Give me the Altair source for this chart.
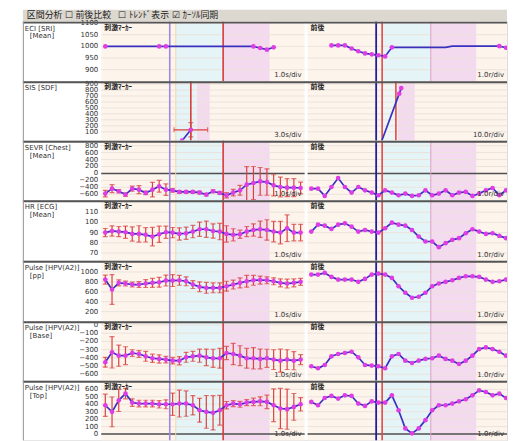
import altair as alt
import pandas as pd

# ---------------- data ----------------
row_names = [["ECI [SRI]", "[Mean]"], ["SIS [SDF]"], ["SEVR [Chest]", "[Mean]"],
             ["HR [ECG]", "[Mean]"], ["Pulse [HPV(A2)]", "[pp]"],
             ["Pulse [HPV(A2)]", "[Base]"], ["Pulse [HPV(A2)]", "[Top]"]]
y_domains = [[851, 1106], [-50, 950], [-771, 943], [62.5, 121.7], [6, 1226], [-678, 45], [-84, 716]]
y_ticks = [[1100, 1050, 1000, 950, 900],
           [900, 800, 700, 600, 500, 400, 300, 200, 100],
           [800, 600, 400, 200, 0, -200, -400, -600],
           [110, 100, 90, 80, 70],
           [1000, 800, 600, 400, 200],
           [0, -100, -200, -300, -400, -500, -600],
           [600, 500, 400, 300, 200, 100, 0]]
zero_line = [False, False, True, False, False, False, True]
left_title = "刺激ﾏｰｶｰ"
right_title = "前後"
left_div = ["1.0s/div", "3.0s/div", "1.0s/div", "1.0s/div", "1.0s/div", "1.0s/div", "1.0s/div"]
right_div = ["1.0r/div", "10.0r/div", "1.0r/div", "1.0r/div", "1.0r/div", "1.0r/div", "1.0r/div"]

IDX = list(range(30))

# left panels (stimulus-marker average, with error bars)
left_x = [
    [0, 8, 9, 22, 23, 24, 25],
    [11.4, 12.7],
    IDX, IDX, IDX, IDX, IDX,
]
left_v = [
    [1000, 1000, 1000, 1000, 993, 986, 996],
    [-50, 133],
    [-581, -438, -514, -610, -438, -467, -562, -467, -371, -467, -486, -533, -533, -533, -552,
     -610, -514, -562, -629, -552, -486, -324, -276, -229, -248, -343, -390, -410, -410, -419],
    [90.0, 91.6, 91.0, 90.4, 88.7, 88.7, 87.8, 86.1, 88.4, 90.4, 90.0, 88.7, 89.4, 91.0, 93.3,
     93.3, 91.6, 91.0, 88.7, 87.8, 88.4, 91.0, 92.6, 93.3, 92.6, 91.0, 90.0, 94.3, 90.0, 90.0],
    [846, 646, 780, 766, 746, 746, 766, 780, 792, 826, 826, 832, 812, 746, 700,
     680, 680, 680, 712, 746, 780, 812, 832, 836, 832, 812, 780, 766, 780, 800],
    [-453, -333, -373, -373, -341, -353, -381, -405, -413, -421, -434, -434, -393, -381, -373,
     -393, -405, -405, -341, -353, -373, -405, -405, -413, -405, -421, -434, -421, -434, -421],
    [387, 298, 453, 543, 423, 409, 409, 409, 400, 400, 400, 409, 409, 387, 320,
     298, 285, 320, 387, 409, 400, 423, 432, 440, 432, 387, 343, 334, 365, 400],
]
left_err = [
    [0, 0, 0, 0, 0, 0, 0],
    [0, 120],
    [95, 115, 50, 50, 75, 115, 50, 210, 170, 165, 50, 40, 40, 40, 40,
     40, 40, 40, 75, 95, 140, 520, 475, 400, 380, 305, 285, 260, 260, 170],
    [4, 5, 5, 6, 7, 8, 7, 9, 8, 6, 5, 6, 6, 6, 7,
     8, 7, 8, 8, 6, 4, 5, 6, 8, 10, 10, 11, 13, 8, 8],
    [90, 300, 60, 50, 50, 60, 80, 90, 100, 110, 120, 100, 90, 80, 100,
     110, 100, 100, 100, 90, 100, 120, 100, 80, 70, 70, 80, 90, 80, 70],
    [60, 190, 129, 108, 40, 40, 60, 50, 50, 40, 40, 50, 60, 60, 80,
     100, 110, 120, 80, 130, 120, 120, 130, 120, 110, 120, 140, 120, 110, 60],
    [150, 200, 150, 70, 50, 45, 45, 45, 50, 60, 150, 180, 170, 130, 160,
     220, 230, 200, 50, 40, 40, 40, 50, 60, 90, 220, 270, 270, 180, 90],
]
left_xerr = [None, [0, 2.5], None, None, None, None, None]

# right panels (before / after)
right_x = [
    [3, 4, 5, 6, 7, 8, 9, 10, 11, 12, 20, 21, 28, 29],
    [10.5, 13.1, 13.4],
    IDX, IDX, IDX, IDX, IDX,
]
right_v = [
    [1004, 1004, 1004, 991, 979, 970, 966, 962, 957, 996, 996, 1001, 1001, 994],
    [-50, 740, 833],
    [-438, -438, -648, -390, -133, -390, -552, -390, -486, -552, -629, -486, -552, -629, -581,
     -648, -629, -486, -629, -581, -486, -629, -552, -533, -648, -581, -486, -419, -629, -486],
    [91.0, 97.8, 96.8, 93.6, 97.8, 99.1, 95.8, 91.0, 92.6, 91.0, 90.0, 94.3, 99.7, 97.8, 96.8,
     92.6, 86.1, 81.3, 81.3, 75.8, 79.7, 82.9, 84.6, 89.4, 93.3, 91.0, 88.7, 89.4, 86.8, 84.6],
    [946, 946, 980, 900, 846, 846, 846, 800, 860, 946, 966, 946, 880, 712, 580,
     480, 500, 580, 712, 766, 800, 832, 880, 912, 912, 900, 846, 800, 812, 846],
    [-502, -526, -486, -381, -353, -341, -325, -393, -486, -494, -502, -526, -381, -353, -434,
     -462, -434, -413, -405, -373, -413, -434, -474, -434, -373, -293, -273, -293, -325, -373],
    [432, 387, 485, 512, 476, 520, 512, 409, 378, 440, 423, 423, 520, 320, 76,
     9, 76, 187, 320, 387, 387, 409, 440, 467, 520, 587, 565, 520, 543, 485],
]
right_marker = [
    [1, 1, 1, 1, 1, 1, 1, 1, 1, 1, 0, 0, 1, 1],
    [0, 1, 1],
    None, None, None, None, None,
]

# analysis intervals (x in sample units) and cursor lines
left_bands = [[10.46, 17.5, "#e4f4f7"], [17.5, 24.4, "#f4daee"]]
left_bands_r2 = [[10.46, 13.5, "#e4f4f7"], [13.6, 15.5, "#f4daee"]]
right_bands = [[10.55, 17.8, "#e4f4f7"], [17.8, 24.56, "#f4daee"]]
right_bands_r2 = [[10.55, 12.6, "#eef7f6"], [12.9, 15.4, "#f4daee"]]
left_lines = [[9.57, "#9d86e0", 1.6], [10.46, "#f1d9b4", 1.0], [17.5, "#d93a3a", 1.6]]
left_lines_r2 = [[9.57, "#9d86e0", 1.6], [10.46, "#f1d9b4", 1.0], [12.7, "#d93a3a", 1.6]]
right_lines = [[9.66, "#1f1f9e", 1.8], [10.55, "#e04848", 1.6], [17.8, "#dca0c4", 1.0]]
right_lines_r2 = [[9.66, "#1f1f9e", 1.8], [10.55, "#e04848", 1.6], [12.6, "#e04848", 1.6]]

toolbar_text = ["区間分析", "☐", "前後比較", "☐", "ﾄﾚﾝﾄﾞ表示", "☑", "ｶｰｿﾙ同期"]
toolbar_pos = [4, 42, 53, 96, 107, 150, 161]

# ---------------- layout / style ----------------
LABEL_W = 79
LW, RW, GAP = 205, 201, 3
TOTAL_W = LABEL_W + LW + GAP + RW
L0, L1 = LABEL_W, LABEL_W + LW
R0, R1 = LABEL_W + LW + GAP, TOTAL_W
HEIGHTS = [60, 60, 60, 61, 61, 60, 60]
LX_DOMAIN = [-0.6, 29.6]
RX_DOMAIN = [-0.55, 29.15]
PEACH = "#fdf4ec"
GRID = "#ebe3dc"
SEP = "#555555"
LINE = "#3a30c0"
MAG = "#e03ce6"
ERR = "#d94040"
TXT = "#333333"
FONT = "DejaVu Sans"
JFONT = "Noto Sans CJK JP"


def one():
    return alt.Chart(pd.DataFrame({"a": [0]}))


def make_row(r):
    h = HEIGHTS[r]
    xl = alt.Scale(domain=LX_DOMAIN, range=[L0, L1], nice=False, zero=False)
    xr = alt.Scale(domain=RX_DOMAIN, range=[R0, R1], nice=False, zero=False)
    ys = alt.Scale(domain=y_domains[r], nice=False, zero=False)

    def XL(f):
        return alt.X(f, type="quantitative", scale=xl, axis=None)

    def XR(f):
        return alt.X(f, type="quantitative", scale=xr, axis=None)

    def Y(f):
        return alt.Y(f, type="quantitative", scale=ys, axis=None)

    layers = []
    # panel backgrounds
    for a, b in [(L0, L1), (R0, R1)]:
        layers.append(one().mark_rect(color=PEACH).encode(
            x=alt.value(a), x2=alt.value(b), y=alt.value(0), y2=alt.value(h)))

    gdf = pd.DataFrame({"t": y_ticks[r]})
    for side in ["L", "R"]:
        left = side == "L"
        X = XL if left else XR
        a, b = (L0, L1) if left else (R0, R1)
        if left:
            bands = left_bands_r2 if r == 1 else left_bands
            vlines = left_lines_r2 if r == 1 else left_lines
        else:
            bands = right_bands_r2 if r == 1 else right_bands
            vlines = right_lines_r2 if r == 1 else right_lines
        bdf = pd.DataFrame(bands, columns=["a", "b", "c"])
        layers.append(alt.Chart(bdf).mark_rect().encode(
            x=X("a"), x2="b", y=alt.value(0), y2=alt.value(h),
            fill=alt.Fill("c:N", scale=None)))
        layers.append(alt.Chart(gdf).mark_rule(color=GRID, strokeWidth=1).encode(
            x=alt.value(a), x2=alt.value(b), y=Y("t")))
        if zero_line[r]:
            layers.append(alt.Chart(pd.DataFrame({"z": [0]})).mark_rule(
                color="#505050", strokeWidth=1.5).encode(
                x=alt.value(a), x2=alt.value(b), y=Y("z")))
        vdf = pd.DataFrame(vlines, columns=["x", "c", "w"])
        layers.append(alt.Chart(vdf).mark_rule().encode(
            x=X("x"), y=alt.value(0), y2=alt.value(h),
            stroke=alt.Stroke("c:N", scale=None),
            strokeWidth=alt.StrokeWidth("w:Q", scale=None)))

        if left:
            df = pd.DataFrame({"x": left_x[r], "v": left_v[r], "e": left_err[r]})
            df["lo"] = df["v"] - df["e"]
            df["hi"] = df["v"] + df["e"]
            edf = df[df["e"] > 0]
            if len(edf):
                layers.append(alt.Chart(edf).mark_rule(color=ERR, strokeWidth=1.2, clip=True).encode(
                    x=X("x"), y=Y("lo"), y2="hi"))
                for f in ["lo", "hi"]:
                    layers.append(alt.Chart(edf).mark_tick(color=ERR, size=5, thickness=1.2,
                                                           orient="horizontal", clip=True).encode(
                        x=X("x"), y=Y(f)))
            if left_xerr[r] is not None:
                df["xe"] = left_xerr[r]
                df["xlo"] = df["x"] - df["xe"]
                df["xhi"] = df["x"] + df["xe"]
                xdf = df[df["xe"] > 0]
                layers.append(alt.Chart(xdf).mark_rule(color=ERR, strokeWidth=1.2, clip=True).encode(
                    x=X("xlo"), x2="xhi", y=Y("v")))
                for f in ["xlo", "xhi"]:
                    layers.append(alt.Chart(xdf).mark_tick(color=ERR, size=5, thickness=1.2,
                                                           orient="vertical", clip=True).encode(
                        x=X(f), y=Y("v")))
            pdf = df
        else:
            df = pd.DataFrame({"x": right_x[r], "v": right_v[r]})
            mk = right_marker[r]
            pdf = df if mk is None else df[pd.Series(mk) > 0]

        layers.append(alt.Chart(df).mark_line(color=LINE, strokeWidth=1.7, clip=True).encode(
            x=X("x"), y=Y("v")))
        layers.append(alt.Chart(pdf).mark_point(filled=True, size=22, color=MAG, opacity=1,
                                                clip=True).encode(x=X("x"), y=Y("v")))

        layers.append(one().mark_text(align="left", baseline="top", fontSize=7, font=JFONT,
                                      fontWeight="bold", color="#222222").encode(
            x=alt.value(a + 3), y=alt.value(2),
            text=alt.value(left_title if left else right_title)))
        layers.append(one().mark_text(align="right", baseline="bottom", fontSize=7, font=FONT,
                                      color=TXT).encode(
            x=alt.value(b - 3), y=alt.value(h - 3),
            text=alt.value(left_div[r] if left else right_div[r])))

    # y tick labels, drawn through the row's y scale
    layers.append(alt.Chart(gdf).mark_text(align="right", baseline="middle", fontSize=7,
                                           font=FONT, color=TXT).encode(
        x=alt.value(L0 - 3), y=Y("t"), text=alt.Text("t:Q")))
    # row label (two lines, second one indented)
    for i, line in enumerate(row_names[r]):
        layers.append(alt.Chart(pd.DataFrame({"t": [line]})).mark_text(
            align="left", baseline="top", fontSize=7, font=FONT, color=TXT).encode(
            x=alt.value(2 if i == 0 else 7), y=alt.value(3 + 8 * i), text="t:N"))
    # separators / border
    layers.append(one().mark_rule(color=SEP, strokeWidth=2).encode(
        x=alt.value(0), x2=alt.value(TOTAL_W), y=alt.value(1)))
    layers.append(one().mark_rule(color="#9a9a9a", strokeWidth=1).encode(
        x=alt.value(0.5), y=alt.value(0), y2=alt.value(h)))

    return alt.layer(*layers).resolve_scale(x="independent").properties(
        width=TOTAL_W, height=h)


tdf = pd.DataFrame({"t": toolbar_text, "px": toolbar_pos})
toolbar = alt.Chart(tdf).mark_text(align="left", baseline="middle", fontSize=9, font=JFONT,
                                   color="#222222").encode(
    x=alt.X("px:Q", scale=None), y=alt.value(5), text="t:N"
).properties(width=TOTAL_W, height=12,
             view=alt.ViewBackground(fill="#dcd8d0", strokeWidth=0))

rows = [make_row(r) for r in range(7)]

chart = alt.vconcat(toolbar, *rows, spacing=0, bounds="flush").properties(
    padding={"left": 13, "top": 0, "right": 0, "bottom": 0}
).configure_view(strokeWidth=0).configure(background="white")

chart.save("out.html", embed_options={"renderer": "svg", "actions": False})
